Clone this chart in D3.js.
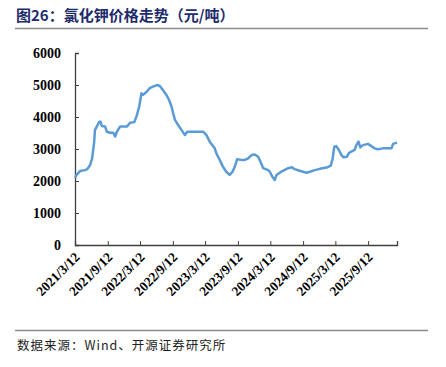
<!DOCTYPE html>
<html>
<head>
<meta charset="utf-8">
<script src="https://cdn.jsdelivr.net/npm/d3@7"></script>
<style>
  body { margin: 0; background: #fff; }
  svg { display: block; }
  .ax text { font-family: "Liberation Serif", "Times New Roman", serif; font-weight: bold; fill: #000; }
</style>
</head>
<body>
<script>
// ** data (元/吨)
var dates = ["2021-03-12","2021-03-21","2021-04-09","2021-05-07","2021-05-20","2021-06-05","2021-06-16",
  "2021-06-27","2021-07-02","2021-07-12","2021-07-26","2021-08-03","2021-08-09","2021-08-28","2021-09-07",
  "2021-09-25","2021-10-13","2021-10-23","2021-11-02","2021-11-20","2021-12-28","2022-01-15","2022-02-08",
  "2022-02-22","2022-03-07","2022-03-20","2022-03-29","2022-04-18","2022-05-06","2022-05-24","2022-06-16",
  "2022-07-01","2022-07-19","2022-08-07","2022-08-22","2022-09-05","2022-09-14","2022-09-24","2022-10-12",
  "2022-10-31","2022-11-19","2022-12-02","2023-01-24","2023-03-01","2023-03-19","2023-04-07","2023-05-05",
  "2023-05-14","2023-06-02","2023-06-20","2023-07-09","2023-07-28","2023-08-13","2023-08-26","2023-09-08",
  "2023-10-02","2023-10-21","2023-11-09","2023-11-28","2023-12-16","2024-01-04","2024-01-17","2024-02-01",
  "2024-02-29","2024-03-09","2024-03-24","2024-04-06","2024-04-16","2024-05-04","2024-05-22","2024-06-20",
  "2024-07-12","2024-07-27","2024-08-24","2024-09-12","2024-10-01","2024-10-20","2024-11-17","2024-12-15",
  "2025-01-22","2025-02-14","2025-02-25","2025-03-06","2025-03-17","2025-04-01","2025-04-15","2025-04-27",
  "2025-05-16","2025-05-27","2025-06-10","2025-06-28","2025-07-08","2025-07-20","2025-07-30","2025-08-14",
  "2025-09-11","2025-09-30","2025-10-19","2025-11-06","2025-12-04","2026-01-21","2026-01-30","2026-02-21"];
var prices = [2100,2190,2310,2340,2370,2500,2710,
  3180,3590,3700,3850,3850,3720,3700,3540,
  3510,3510,3390,3540,3700,3700,3820,3840,
  4050,4320,4740,4690,4790,4900,4950,5000,
  4970,4840,4690,4530,4320,4110,3910,3750,
  3590,3440,3540,3540,3540,3440,3230,3020,
  2870,2660,2450,2290,2190,2290,2450,2680,
  2660,2660,2710,2810,2830,2760,2600,2400,
  2340,2290,2130,2030,2190,2260,2320,2400,
  2430,2370,2320,2290,2260,2290,2340,2380,
  2420,2480,2700,3070,3090,2970,2810,2740,
  2760,2870,2920,2970,3120,3230,3050,3120,
  3160,3090,3020,2990,3020,3020,3160,3200];
var tickDates = ["2021-03-12","2021-09-12","2022-03-12","2022-09-12","2023-03-12",
  "2023-09-12","2024-03-12","2024-09-12","2025-03-12","2025-09-12"];
var yTicks = [0,1000,2000,3000,4000,5000,6000];

var W = 446, H = 367;
var parse = d3.timeParse("%Y-%m-%d");
var fmt = d3.timeFormat("%Y/%-m/%-d");
var data = dates.map(function(d, i){ return {date: parse(d), v: prices[i]}; });

var svg = d3.select('body').append('svg')
  .attr('width', W).attr('height', H);

// ** title + rules
svg.append('text')
  .attr('x', 16).attr('y', 21)
  .attr('fill', '#1f2c6b')
  .style('font-family', '"Noto Sans CJK SC", sans-serif')
  .style('font-weight', 'bold')
  .style('font-size', '15px')
  .text('图26：氯化钾价格走势（元/吨）');
svg.append('line').attr('x1', 15).attr('x2', 428).attr('y1', 28.5).attr('y2', 28.5)
  .attr('stroke', '#8c8c8c').attr('stroke-width', 1.5);
svg.append('line').attr('x1', 15).attr('x2', 428).attr('y1', 330.5).attr('y2', 330.5)
  .attr('stroke', '#8c8c8c').attr('stroke-width', 1.5);
svg.append('text')
  .attr('x', 17).attr('y', 350)
  .attr('fill', '#222')
  .style('font-family', '"Noto Sans CJK SC", serif')
  .style('font-size', '12.5px')
  .style('letter-spacing', '1px')
  .text('数据来源：Wind、开源证券研究所');

// ** scales
var x = d3.scaleTime()
  .domain([parse("2021-03-12"), parse("2026-02-21")])
  .range([75, 397]);
var y = d3.scaleLinear().domain([0, 6000]).range([245, 53]);

// ** axes
var yAxis = d3.axisLeft(y).tickValues(yTicks).tickSize(-4).tickPadding(14)
  .tickFormat(d3.format('d'));
var gy = svg.append('g').attr('class', 'ax').attr('transform', 'translate(75,0)').call(yAxis);
gy.attr('font-family', null).attr('font-size', 14);

var xAxis = d3.axisBottom(x).tickValues(tickDates.map(parse)).tickSize(-4).tickFormat(fmt);
var gx = svg.append('g').attr('class', 'ax').attr('transform', 'translate(0,245)').call(xAxis);
gx.attr('font-family', null).attr('font-size', 13.5);
gx.selectAll('text')
  .attr('text-anchor', 'end')
  .attr('dy', null)
  .attr('y', 0)
  .attr('transform', 'translate(5,13) rotate(-45)');

svg.selectAll('.domain').attr('stroke', '#404040').attr('stroke-width', 1.3);
svg.selectAll('.tick line').attr('stroke', '#404040');

// ** price line
var line = d3.line()
  .x(function(d){ return x(d.date); })
  .y(function(d){ return y(d.v); });
svg.append('path')
  .datum(data)
  .attr('d', line)
  .attr('fill', 'none')
  .attr('stroke', '#5b9bd5')
  .attr('stroke-width', 2.5)
  .attr('stroke-linejoin', 'round');
</script>
</body>
</html>
